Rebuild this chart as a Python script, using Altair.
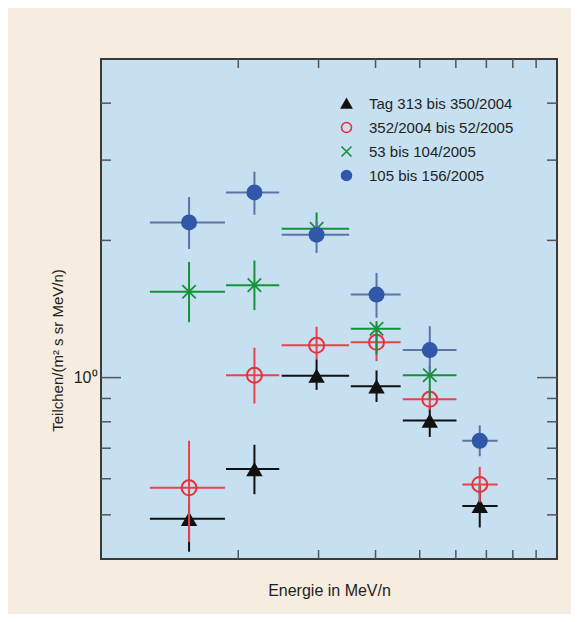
import altair as alt
import pandas as pd

# ---- data ----
series = ["Tag 313 bis 350/2004", "352/2004 bis 52/2005", "53 bis 104/2005", "105 bis 156/2005"]

energy = [1.56, 2.17, 2.97, 4.02, 5.26, 6.77]
energy_lo = [1.28, 1.88, 2.49, 3.53, 4.59, 6.20]
energy_hi = [1.87, 2.46, 3.50, 4.54, 6.02, 7.41]

black_y = [0.490, 0.630, 1.010, 0.957, 0.805, 0.523]
black_lo = [0.415, 0.555, 0.940, 0.884, 0.741, 0.469]
black_hi = [0.530, 0.712, 1.097, 1.037, 0.870, 0.580]

red_y = [0.573, 1.012, 1.177, 1.195, 0.896, 0.583]
red_lo = [0.436, 0.877, 1.097, 1.087, 0.850, 0.533]
red_hi = [0.727, 1.163, 1.293, 1.300, 0.943, 0.637]

green_y = [1.543, 1.595, 2.120, 1.280, 1.012]
green_lo = [1.323, 1.406, 2.000, 1.124, 0.896]
green_hi = [1.794, 1.806, 2.303, 1.330, 1.060]

blue_y = [2.190, 2.548, 2.059, 1.521, 1.149, 0.727]
blue_lo = [1.915, 2.277, 1.877, 1.353, 1.022, 0.672]
blue_hi = [2.490, 2.830, 2.200, 1.697, 1.297, 0.786]

x_minor_ticks = [2, 3, 4, 5, 6, 7, 8, 9]
y_minor_ticks = [0.5, 0.6, 0.7, 0.8, 0.9, 2, 3, 4]
y_major_ticks = [1]

# ---- styling ----
FONT = "Liberation Sans, Arial, sans-serif"
TXT = "#231f20"
marker_fill = ["#111111", "transparent", "transparent", "#2f58a8"]
marker_stroke = ["#111111", "#e8303a", "#14923a", "#2f58a8"]
bar_color = ["#111111", "#e8424c", "#14923a", "#6272a8"]
shapes = ["triangle-up", "circle", "M-1,-1L1,1M-1,1L1,-1", "circle"]
sizes = [270, 225, 180, 256]
stroke_w = [0, 2, 1.8, 0]

vals = [(black_y, black_lo, black_hi), (red_y, red_lo, red_hi),
        (green_y, green_lo, green_hi), (blue_y, blue_lo, blue_hi)]

frames = []
for s, (yv, lo, hi) in zip(series, vals):
    n = len(yv)
    frames.append(pd.DataFrame({
        "series": s, "E": energy[:n], "E_lo": energy_lo[:n], "E_hi": energy_hi[:n],
        "y": yv, "y_lo": lo, "y_hi": hi}))

xs = alt.Scale(type="log", domain=[1, 10], nice=False)
ys = alt.Scale(type="log", domain=[0.4, 5], nice=False)

fill_sc = alt.Scale(domain=series, range=marker_fill)
stroke_sc = alt.Scale(domain=series, range=marker_stroke)
shape_sc = alt.Scale(domain=series, range=shapes)
bar_sc = alt.Scale(domain=series, range=bar_color)

legend = alt.Legend(title=None, orient="none", legendX=238, legendY=37,
                    labelFont=FONT, labelFontSize=15, labelColor=TXT, labelLimit=0,
                    labelOffset=15, rowPadding=7, symbolSize=100,
                    symbolStrokeWidth=1.6, padding=0)

layers = []

# axis ticks drawn inward
tick_color = "#555555"
xt = pd.DataFrame({"v": x_minor_ticks})
ytm = pd.DataFrame({"v": y_minor_ticks})
ytM = pd.DataFrame({"v": y_major_ticks})
for (y0, y1) in [(500, 491), (0, 9)]:
    layers.append(alt.Chart(xt).mark_rule(color=tick_color, strokeWidth=1.5).encode(
        x=alt.X("v:Q", scale=xs), y=alt.value(y0), y2=alt.value(y1)))
for df_, ln in [(ytm, 10), (ytM, 20)]:
    layers.append(alt.Chart(df_).mark_rule(color=tick_color, strokeWidth=1.5).encode(
        y=alt.Y("v:Q", scale=ys), x=alt.value(0), x2=alt.value(ln)))
    layers.append(alt.Chart(df_).mark_rule(color=tick_color, strokeWidth=1.5).encode(
        y=alt.Y("v:Q", scale=ys), x=alt.value(456), x2=alt.value(456 - ln)))

for i, df in enumerate(frames):
    base = alt.Chart(df)
    layers.append(base.mark_rule(strokeWidth=2).encode(
        x=alt.X("E_lo:Q", scale=xs), x2="E_hi:Q", y=alt.Y("y:Q", scale=ys),
        color=alt.Color("series:N", scale=bar_sc, legend=None)))
    layers.append(base.mark_rule(strokeWidth=2).encode(
        x=alt.X("E:Q", scale=xs), y=alt.Y("y_lo:Q", scale=ys), y2="y_hi:Q",
        color=alt.Color("series:N", scale=bar_sc, legend=None)))
    layers.append(base.mark_point(size=sizes[i], strokeWidth=stroke_w[i], opacity=1).encode(
        x=alt.X("E:Q", scale=xs), y=alt.Y("y:Q", scale=ys),
        fill=alt.Fill("series:N", scale=fill_sc, legend=legend),
        stroke=alt.Stroke("series:N", scale=stroke_sc, legend=legend),
        shape=alt.Shape("series:N", scale=shape_sc, legend=legend)))

chart = alt.layer(*layers).encode(
    x=alt.X(scale=xs, axis=alt.Axis(title="Energie in MeV/n", labels=False, ticks=False,
                                    domain=False, grid=False, titleFont=FONT,
                                    titleFontSize=16, titleFontWeight="normal",
                                    titleColor=TXT, titleY=31,
                                    titleBaseline="middle")),
    y=alt.Y(scale=ys, axis=alt.Axis(title="Teilchen/(m² s sr MeV/n)", values=[1],
                                    labelExpr="'10⁰'", ticks=False, domain=False,
                                    grid=False, labelFont=FONT, labelFontSize=16,
                                    labelColor=TXT, labelPadding=4,
                                    titleFont=FONT, titleFontSize=15,
                                    titleFontWeight="normal", titleColor=TXT,
                                    titleX=-44, titleY=291, titleAngle=270,
                                    titleAlign="center", titleBaseline="middle")),
).resolve_scale(color="independent").properties(
    width=456, height=500,
    background="#f6ece0",
    padding={"left": 93, "top": 51, "right": 14, "bottom": 55},
    autosize=alt.AutoSizeParams(type="none"),
).configure_view(fill="#c6dff1", stroke="#3a3a3a", strokeWidth=2)

chart.save("out.html", embed_options={"renderer": "svg", "actions": False})
